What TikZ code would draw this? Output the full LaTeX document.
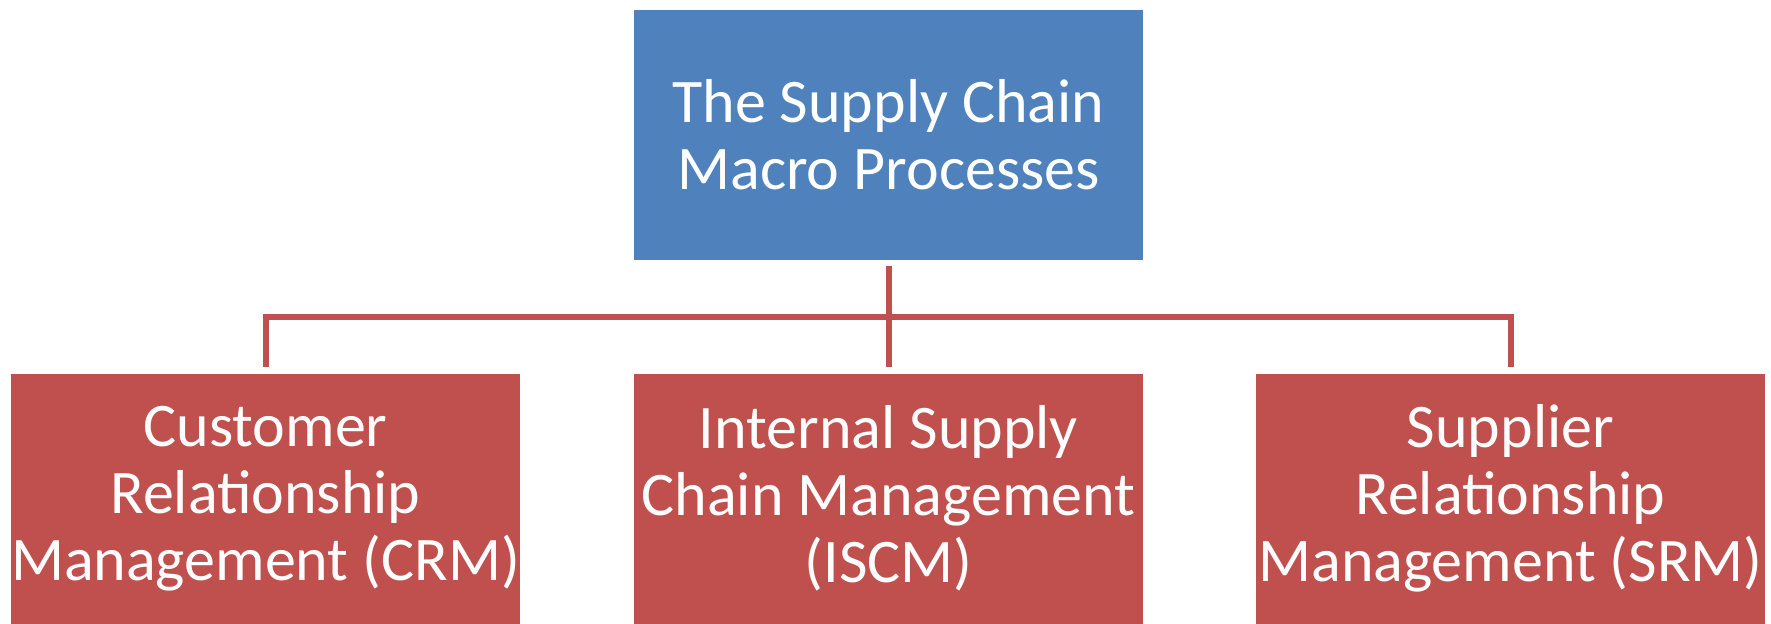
\documentclass[tikz,border=0pt]{standalone}
\usepackage{fontspec}
\setmainfont{Carlito}
\usepackage{tikz}
\usetikzlibrary{calc}

\definecolor{procblue}{HTML}{4F81BD}
\definecolor{procred}{HTML}{C0504D}

\begin{document}
\begin{tikzpicture}[x=0.5pt,y=-0.5pt,
  box/.style={rectangle,inner sep=0pt,minimum width=254.5pt,minimum height=125pt,
    text=white,align=center,font=\fontsize{31pt}{33.5pt}\selectfont},
  link/.style={draw=procred,line width=3pt}]
\useasboundingbox (0,0) rectangle (1771,623);
\node (top) [box,fill=procblue] at (888.5,134.5) {The Supply Chain\\Macro Processes};
\node (crm) [box,fill=procred] at (265.5,498.5) {Customer\\Relationship\\Management (CRM)};
\node (iscm) [box,fill=procred] at (888.5,498.5) {Internal Supply\\Chain Management\\(ISCM)};
\node (srm) [box,fill=procred] at (1510.5,498.5) {Supplier\\Relationship\\Management (SRM)};
\coordinate (bus) at (888.5,317);
\draw[link] ([yshift=-3pt]top.south) -- ([yshift=3pt]iscm.north);
\draw[link] ([yshift=3pt]crm.north) |- (bus) -| ([yshift=3pt]srm.north);
\end{tikzpicture}
\end{document}
